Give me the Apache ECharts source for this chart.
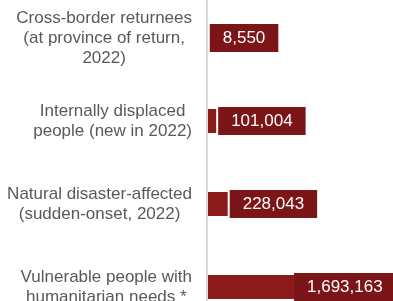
<!DOCTYPE html>
<html>
<head>
    <meta charset="utf-8">
    <title>chart</title>
    <script src="https://cdn.jsdelivr.net/npm/echarts@6/dist/echarts.min.js"></script>
    <style>
        html, body { margin: 0; padding: 0; background: #fff; }
        #main { width: 393px; height: 301px; }
    </style>
</head>
<body>
<div id="main"></div>
<script>
    // categories, top to bottom
    var categories = [
        'Cross-border returnees\n(at province of return,\n2022)',
        'Internally displaced\npeople (new in 2022)',
        'Natural disaster-affected\n(sudden-onset, 2022)',
        'Vulnerable people with\nhumanitarian needs *'
    ];
    var values = [8550, 101004, 228043, 1693163];

    var chart = echarts.init(document.getElementById('main'));

    var seriesData = values.map(function (v, i) {
        var item = {value: v};
        // last bar's label sits inside the bar near the right edge
        if (i === values.length - 1) {
            item.label = {position: [87, '50%'], verticalAlign: 'middle', distance: 0};
        }
        return item;
    });

    var option = {
        animation: false,
        grid: {
            left: 207,
            right: 0,
            top: -3.5,
            height: 332,
            outerBoundsMode: 'none',
            containLabel: false
        },
        xAxis: {
            type: 'value',
            min: 0,
            max: 2050000,
            show: false
        },
        yAxis: {
            type: 'category',
            inverse: true,
            data: categories,
            z: 3,
            axisTick: {show: false},
            axisLine: {lineStyle: {color: '#d9d9d9', width: 2}},
            axisLabel: {
                margin: 15,
                formatter: function (val) {
                    return '{c|' + val + '}';
                },
                rich: {
                    c: {
                        align: 'center',
                        fontFamily: 'Liberation Sans, Arial, sans-serif',
                        fontSize: 17,
                        lineHeight: 20,
                        color: '#595959'
                    }
                }
            }
        },
        series: [{
            type: 'bar',
            data: seriesData,
            barWidth: 24,
            itemStyle: {color: '#8c1c1c'},
            label: {
                show: true,
                position: 'right',
                distance: 2,
                color: '#fff',
                fontFamily: 'Liberation Sans, Arial, sans-serif',
                fontSize: 17,
                lineHeight: 18,
                backgroundColor: '#7c1518',
                padding: [5, 13],
                formatter: function (p) {
                    return p.value.toLocaleString('en-US');
                }
            }
        }]
    };
    chart.setOption(option);
</script>
</body>
</html>
